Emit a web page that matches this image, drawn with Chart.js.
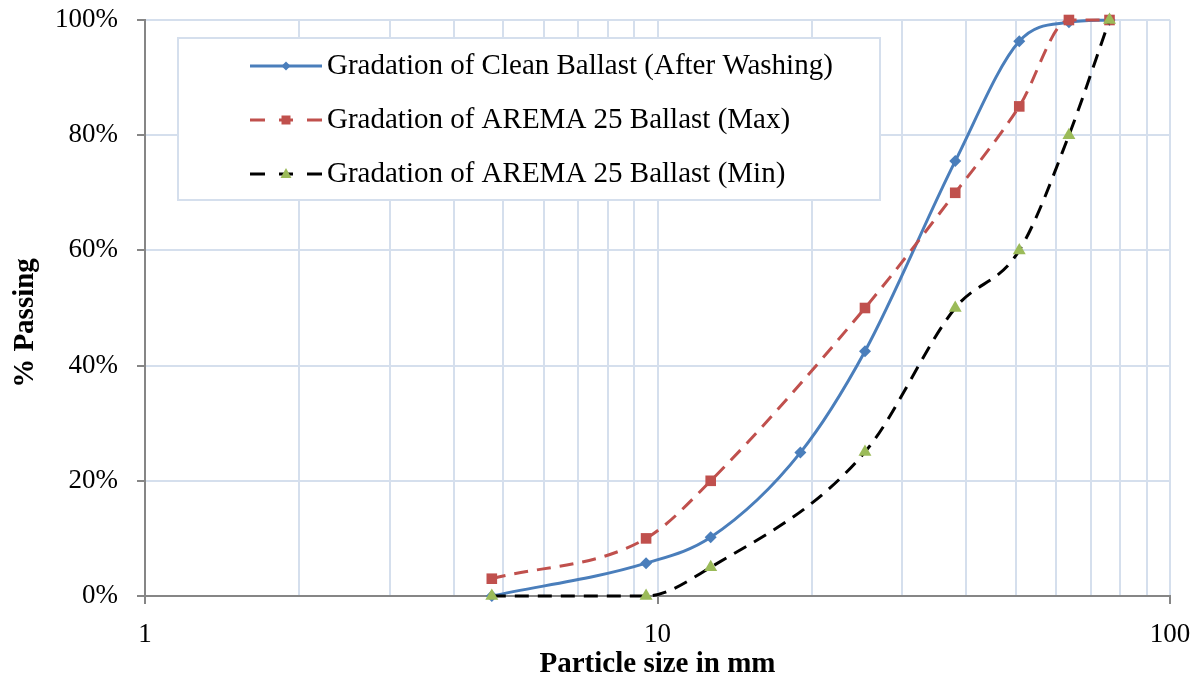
<!DOCTYPE html>
<html>
<head>
<meta charset="utf-8">
<script src="https://cdn.jsdelivr.net/npm/chart.js@4/dist/chart.umd.min.js"></script>
<style>
  html, body { margin: 0; padding: 0; background: #fff; }
  #wrap { width: 1203px; height: 683px; }
</style>
</head>
<body>
<div id="wrap"><canvas id="gradChart" width="1203" height="683"></canvas></div>
<script>
// sieve sizes (mm)
const sizesClean = [4.75, 9.5, 12.7, 19, 25.4, 38.1, 50.8, 63.5, 76.2];
const sizesArema = [4.75, 9.5, 12.7, 25.4, 38.1, 50.8, 63.5, 76.2];

// % passing
const cleanBallast = [0, 5.7, 10.2, 24.9, 42.5, 75.5, 96.3, 99.6, 100];
const aremaMax = [3, 10, 20, 50, 70, 85, 100, 100];
const aremaMin = [0, 0, 5, 25, 50, 60, 80, 100];

const xTicks = [1, 2, 3, 4, 5, 6, 7, 8, 9, 10, 20, 30, 40, 50, 60, 70, 80, 90, 100];
const xLabels = [1, 10, 100];
const yTicks = [0, 20, 40, 60, 80, 100];
const yTitle = '% Passing';

const serif = "'Liberation Serif', 'Times New Roman', serif";
const gridBlue = '#d5dfed';
const axisGray = '#868686';

const toPoints = (xs, ys) => xs.map((x, i) => ({ x: x, y: ys[i] }));

// legend drawn inside plot, like the Excel one (plus the y axis title, which sits a bit low)
const boxLegend = {
    id: 'boxLegend',
    afterDraw(chart) {
        const ctx = chart.ctx;
        const x0 = 178, y0 = 38, w = 702, h = 162;
        ctx.save();
        ctx.fillStyle = '#fff';
        ctx.fillRect(x0, y0, w, h);
        ctx.strokeStyle = gridBlue;
        ctx.lineWidth = 2;
        ctx.strokeRect(x0, y0, w, h);

        ctx.font = '29px ' + serif;
        ctx.textBaseline = 'middle';
        chart.data.datasets.forEach((ds, i) => {
            const cy = 66 + i * 54;
            ctx.strokeStyle = ds.borderColor;
            ctx.lineWidth = 3;
            ctx.beginPath();
            if (ds.borderDash) {
                ctx.moveTo(250, cy); ctx.lineTo(265, cy);
                ctx.moveTo(279, cy); ctx.lineTo(293, cy);
                ctx.moveTo(307, cy); ctx.lineTo(322, cy);
            } else {
                ctx.moveTo(250, cy); ctx.lineTo(322, cy);
            }
            ctx.stroke();
            // marker
            ctx.fillStyle = ds.pointBackgroundColor;
            const mx = 286;
            ctx.beginPath();
            if (ds.pointStyle === 'rectRot') {
                ctx.moveTo(mx, cy - 4.5); ctx.lineTo(mx + 4.5, cy);
                ctx.lineTo(mx, cy + 4.5); ctx.lineTo(mx - 4.5, cy);
            } else if (ds.pointStyle === 'rect') {
                ctx.rect(mx - 4.5, cy - 4.5, 9, 9);
            } else {
                ctx.moveTo(mx, cy - 6); ctx.lineTo(mx + 5.5, cy + 4);
                ctx.lineTo(mx - 5.5, cy + 4);
            }
            ctx.closePath();
            ctx.fill();

            ctx.fillStyle = '#000';
            ctx.fillText(ds.label, 327, cy);
        });

        // y title
        ctx.translate(26, 323);
        ctx.rotate(-Math.PI / 2);
        ctx.font = 'bold 29px ' + serif;
        ctx.textAlign = 'center';
        ctx.fillStyle = '#000';
        ctx.fillText(yTitle, 0, 0);
        ctx.restore();
    }
};

const chart = new Chart(document.getElementById('gradChart'), {
    type: 'line',
    data: {
        datasets: [{
            label: 'Gradation of Clean Ballast (After Washing)',
            data: toPoints(sizesClean, cleanBallast),
            order: 3,
            borderColor: '#4a7ebb',
            backgroundColor: '#4a7ebb',
            pointBackgroundColor: '#4a7ebb',
            pointBorderWidth: 0,
            pointStyle: 'rectRot',
            pointRadius: 6,
            borderWidth: 3,
            cubicInterpolationMode: 'monotone',
            clip: false
        }, {
            label: 'Gradation of AREMA 25 Ballast (Max)',
            data: toPoints(sizesArema, aremaMax),
            order: 2,
            borderColor: '#c0504d',
            backgroundColor: '#c0504d',
            pointBackgroundColor: '#c0504d',
            pointBorderWidth: 0,
            pointStyle: 'rect',
            pointRadius: 7.5,
            borderWidth: 3,
            borderDash: [14, 9],
            cubicInterpolationMode: 'monotone',
            clip: false
        }, {
            label: 'Gradation of AREMA 25 Ballast (Min)',
            data: toPoints(sizesArema, aremaMin),
            order: 1,
            borderColor: '#000000',
            backgroundColor: '#9bbb59',
            pointBackgroundColor: '#9bbb59',
            pointBorderWidth: 0,
            pointStyle: 'triangle',
            pointRadius: 7.5,
            borderWidth: 3,
            borderDash: [14, 9],
            cubicInterpolationMode: 'monotone',
            clip: false
        }]
    },
    options: {
        responsive: false,
        animation: false,
        layout: { padding: { top: 20, right: 33, left: 0, bottom: 0 } },
        plugins: {
            legend: { display: false },
            tooltip: { enabled: false }
        },
        scales: {
            x: {
                type: 'logarithmic',
                min: 1,
                max: 100,
                afterBuildTicks: (scale) => {
                    scale.ticks = xTicks.map(v => ({ value: v }));
                },
                afterFit: (scale) => {
                    scale.height = 87;
                    scale.paddingLeft = 0;
                    scale.paddingRight = 0;
                },
                border: { color: axisGray, width: 2 },
                grid: {
                    color: gridBlue,
                    lineWidth: 2,
                    tickLength: 8,
                    tickColor: (c) => xLabels.includes(c.tick && c.tick.value) ? axisGray : 'rgba(0,0,0,0)',
                    tickWidth: 2
                },
                ticks: {
                    autoSkip: false,
                    maxRotation: 0,
                    padding: 15,
                    color: '#000',
                    font: { family: serif, size: 27 },
                    callback: (v) => xLabels.includes(v) ? String(v) : ''
                },
                title: {
                    display: true,
                    text: 'Particle size in mm',
                    color: '#000',
                    font: { family: serif, size: 29, weight: 'bold' },
                    padding: { top: 0, bottom: 1 }
                }
            },
            y: {
                min: 0,
                max: 100,
                afterBuildTicks: (scale) => {
                    scale.ticks = yTicks.map(v => ({ value: v }));
                },
                afterFit: (scale) => {
                    scale.width = 145;
                    scale.paddingTop = 0;
                    scale.paddingBottom = 0;
                },
                border: { color: axisGray, width: 2 },
                grid: {
                    color: gridBlue,
                    lineWidth: 2,
                    tickLength: 8,
                    tickColor: axisGray,
                    tickWidth: 2
                },
                ticks: {
                    padding: 19,
                    color: '#000',
                    font: { family: serif, size: 27 },
                    callback: (v) => v + '%'
                },
                title: { display: false }
            }
        }
    },
    plugins: [boxLegend]
});
</script>
</body>
</html>
